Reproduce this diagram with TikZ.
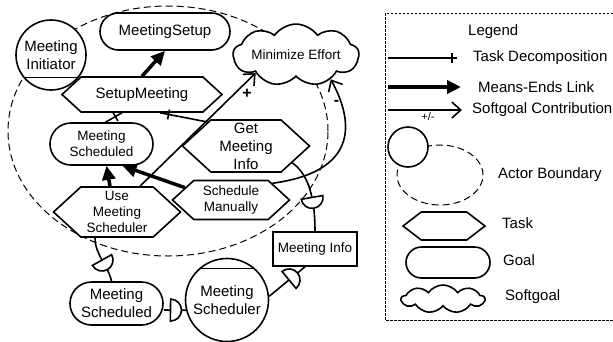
\documentclass[tikz,border=0pt]{standalone}
\usepackage{fontspec}
\setmainfont{Liberation Sans}
\usetikzlibrary{arrows.meta,decorations.markings,shapes.geometric,shapes.misc,shapes.symbols}

\tikzset{
  every node/.style={font=\fontsize{15}{18}\selectfont, align=center, inner sep=0pt},
  small/.style={font=\fontsize{13.5}{16}\selectfont},
  goal/.style={rounded rectangle, draw, line width=1.6pt, fill=white},
  task/.style={signal, signal to=west and east, signal pointer angle=85, draw, line width=1.6pt, fill=white},
  softgoal/.style={cloud, cloud puffs=9, cloud puff arc=110, aspect=3, draw, line width=1.6pt, fill=white},
  actor/.style={circle, draw, line width=1.6pt, fill=white},
  resource/.style={rectangle, draw, line width=1.6pt, fill=white},
  boundary/.style={line width=1pt, dash pattern=on 7pt off 4pt},
  legendframe/.style={line width=0.6pt, dash pattern=on 2.5pt off 1.5pt},
  link/.style={line width=1.6pt},
  meansend/.style={line width=3.5pt, -{Triangle[length=14pt,width=13pt]}},
  contrib/.style={line width=1.6pt, -{Straight Barb[length=9pt,width=16pt]}},
  decomp/.style={line width=1.6pt, postaction={decorate},
    decoration={markings, mark=at position #1 with {\draw[line width=1.6pt] (0,-5pt) -- (0,5pt);}}},
  decomp/.default=0.85,
  dsym/.style={semicircle, draw, fill=white, line width=1.6pt, minimum width=22pt, inner sep=0pt, sloped, rotate=-90},
  sign/.style={font=\fontsize{16}{18}\selectfont\bfseries, inner sep=1pt}
}

\begin{document}
\begin{tikzpicture}[x=1pt,y=-1pt]
  %%%%% START %%%%%
  \useasboundingbox (0,0) rectangle (613,341);

  % actor boundary
  \draw[boundary] (168,131) ellipse [x radius=160pt, y radius=125pt];

  % actors
  \node[actor, minimum size=70pt] (init) at (51,55) {Meeting\\Initiator};
  \draw[link] (init.-141) -- (init.-39);
  \node[actor, minimum size=83pt] (sched) at (227,300) {Meeting\\Scheduler};
  \draw[link] (sched.132) -- (sched.48);

  % goals
  \node[goal, minimum width=130pt, minimum height=37pt] (msetup) at (165,31.5) {MeetingSetup};
  \node[goal, small, minimum width=103pt, minimum height=42pt] (mschin) at (101.5,144) {Meeting\\Scheduled};
  \node[goal, minimum width=93pt, minimum height=43pt] (mschout) at (116.5,303.5) {Meeting\\Scheduled};

  % softgoal
  \node[softgoal, small, minimum width=118pt, minimum height=40pt] (effort) at (296,55) {Minimize Effort};

  % tasks
  \node[task, minimum width=160pt, minimum height=35pt] (setupm) at (142,94.5) {SetupMeeting};
  \node[task, minimum width=127pt, minimum height=52pt] (getinfo) at (246,146) {Get\\Meeting\\Info};
  \node[task, small, minimum width=117pt, minimum height=39pt] (schman) at (231,200) {Schedule\\Manually};
  \node[task, small, minimum width=127pt, minimum height=50pt] (usesch) at (117,212) {Use\\Meeting\\Scheduler};

  % resource
  \node[resource, small, minimum width=84pt, minimum height=34pt] (minfo) at (315,249) {Meeting Info};

  % means-ends and decompositions
  \draw[meansend] (setupm.north) -- (msetup.south);
  \draw[decomp=0.6] ([xshift=4pt]mschin.north) -- ([xshift=-20pt]setupm.south);
  \draw[decomp=0.82] (getinfo.148) -- ([xshift=18pt]setupm.south);
  \draw[meansend] ([xshift=-7pt]usesch.north) -- ([xshift=5pt]mschin.south);
  \draw[meansend] (schman.165) -- ([xshift=21pt]mschin.south);

  % contributions
  \draw[contrib] ([xshift=23pt]usesch.north) -- (effort.204) node[sign, pos=0.87, anchor=north west] {+};
  \draw[contrib] (schman.22) .. controls (370,170) and (347,109) .. (effort.-35) node[sign, pos=0.78, anchor=east] {-};

  % dependencies
  \draw[link] ([xshift=-22pt]usesch.south) .. controls (95,255) and (108,265) .. ([xshift=-5pt]mschout.north) node[dsym, pos=0.6] {};
  \draw[link] ([yshift=-6.5pt]mschout.east) -- (sched.194) node[dsym, pos=0.5] {};
  \draw[link] (getinfo.-20) .. controls (305,172) and (315,190) .. (minfo.north) node[dsym, pos=0.72] {};
  \draw[link] ([xshift=-10pt]minfo.south) -- (sched.5) node[dsym, pos=0.35] {};

  % legend
  \draw[legendframe] (613,13) -- (385,13) -- (385,320) -- (613,320);
  \node[anchor=west] (lgtitle) at (468,32) {Legend};
  \coordinate (dcA) at (388,58);
  \coordinate (dcB) at (457,58);
  \draw[decomp=0.93] (dcA) -- (dcB);
  \node[anchor=west] (lgdecomp) at (473,58) {Task Decomposition};
  \coordinate (meA) at (388,87);
  \coordinate (meB) at (461,87);
  \draw[meansend] (meA) -- (meB);
  \node[anchor=west] (lgmeans) at (478,87) {Means-Ends Link};
  \coordinate (scA) at (388,110);
  \coordinate (scB) at (462,110);
  \draw[contrib] (scA) -- (scB) node[pos=0.54, anchor=north, inner sep=2pt, font=\fontsize{11}{12}\selectfont] {+/-};
  \node[anchor=west] (lgcontrib) at (472,110) {Softgoal Contribution};
  \draw[boundary] (440,175) ellipse [x radius=43pt, y radius=30pt];
  \node[actor, minimum size=40pt] (lgactor) at (408,147) {};
  \node[anchor=west] (lgbound) at (498,175) {Actor Boundary};
  \node[task, signal pointer angle=75, minimum width=82pt, minimum height=28pt] (lgtask) at (444,226) {};
  \node[anchor=west] (lgtasktxt) at (502,223) {Task};
  \node[goal, minimum width=84pt, minimum height=31pt] (lggoal) at (448,262.5) {};
  \node[anchor=west] (lggoaltxt) at (503,260) {Goal};
  \node[softgoal, minimum width=83pt, minimum height=28pt] (lgsoft) at (443,299) {};
  \node[anchor=west] (lgsofttxt) at (505,297) {Softgoal};

  %%%%% END %%%%%
\end{tikzpicture}
\end{document}
